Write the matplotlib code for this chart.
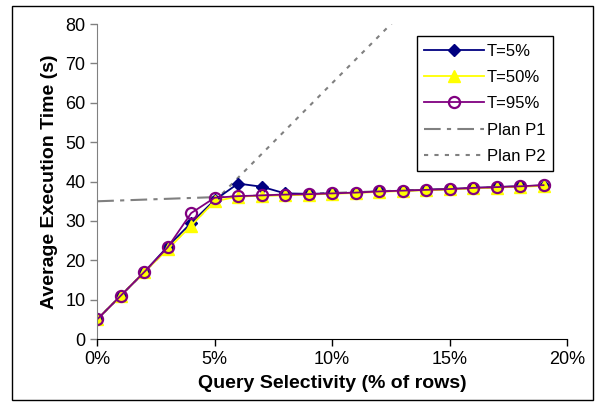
import matplotlib
matplotlib.use('Agg')
import matplotlib.pyplot as plt
from matplotlib.patches import Rectangle

plt.rcParams['font.family'] = ['Liberation Sans', 'DejaVu Sans']

# selectivity in % of rows
sel = [0, 1, 2, 3, 4, 5, 6, 7, 8, 9, 10, 11, 12, 13, 14, 15, 16, 17, 18, 19]
t5 = [5, 11, 17, 23.5, 29.5, 35.3, 39.5, 38.7, 37.0, 36.9, 37.0, 37.2, 37.5, 37.7,
      37.9, 38.1, 38.4, 38.6, 38.8, 39.0]
t50 = [5, 11, 17, 22.8, 28.8, 35.0, 36.2, 36.4, 36.5, 36.7, 36.9, 37.1, 37.4, 37.6,
       37.8, 38.0, 38.3, 38.5, 38.7, 38.9]
t95 = [5, 11, 17, 23.3, 32.0, 35.9, 36.3, 36.5, 36.7, 36.8, 37.0, 37.2, 37.5, 37.7,
       37.9, 38.1, 38.4, 38.6, 38.8, 39.1]

p1_x = [0, 19]
p1_y = [35, 39]
p2_x = [0, 13]
p2_y = [5, 83]

xticks = [0, 5, 10, 15, 20]
xticklabels = ['0%', '5%', '10%', '15%', '20%']
yticks = [0, 10, 20, 30, 40, 50, 60, 70, 80]

fig = plt.figure(figsize=(6.0, 4.09), dpi=100)
ax = fig.add_axes([0.162, 0.171, 0.783, 0.770])

# outer frame of the chart
fig.patches.append(Rectangle((12 / 600, 1 - 400 / 409), 581 / 600, 394 / 409,
                             transform=fig.transFigure, fill=False,
                             edgecolor='black', linewidth=1.0))

ax.plot(p1_x, p1_y, color='#808080', linewidth=1.5, dashes=(8, 3, 2, 3), zorder=1.5)
ax.plot(p2_x, p2_y, color='#808080', linewidth=1.5, dashes=(2, 3), zorder=1.5)

l1, = ax.plot(sel, t5, color='#000080', marker='D', markersize=6, linewidth=1.3,
              label='T=5%')
l2, = ax.plot(sel, t50, color='#FFFF00', marker='^', markersize=8, linewidth=1.3,
              label='T=50%')
l3, = ax.plot(sel, t95, color='#800080', marker='o', markersize=8, linewidth=1.3,
              markerfacecolor='none', markeredgewidth=1.6, label='T=95%')
l4, = ax.plot([], [], color='#808080', linewidth=1.5, dashes=(8, 3, 2, 3), label='Plan P1')
l5, = ax.plot([], [], color='#808080', linewidth=1.5, dashes=(2, 3), label='Plan P2')

ax.set_xlim(0, 20)
ax.set_ylim(0, 80)
ax.set_xticks(xticks)
ax.set_xticklabels(xticklabels)
ax.set_yticks(yticks)
ax.tick_params(labelsize=13, length=5, width=1, colors='black')
ax.tick_params(axis='y', color='#808080')
ax.spines['top'].set_visible(False)
ax.spines['right'].set_visible(False)
ax.spines['left'].set_color('#808080')
ax.spines['bottom'].set_color('black')

ax.set_xlabel('Query Selectivity (% of rows)', fontsize=14, fontweight='bold', labelpad=5)
ax.set_ylabel('Average Execution Time (s)', fontsize=14, fontweight='bold', labelpad=5)

leg = ax.legend(handles=[l1, l2, l3, l4, l5], loc='upper right',
                bbox_to_anchor=(0.97, 0.962), borderaxespad=0, fontsize=12,
                frameon=True, fancybox=False, shadow=False, edgecolor='black',
                framealpha=1, borderpad=0.45, handlelength=3.6, labelspacing=0.68,
                handletextpad=0.15)
leg.get_frame().set_linewidth(1.0)

fig.savefig('out.png', dpi=100)
